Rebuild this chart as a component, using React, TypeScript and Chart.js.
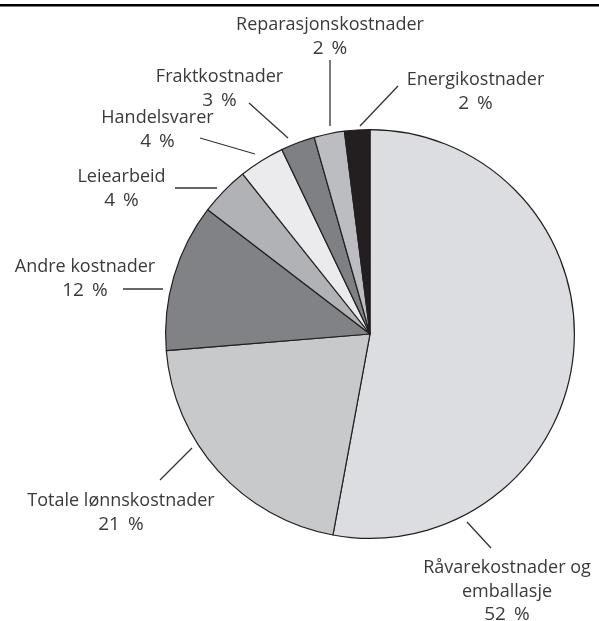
import React, { useEffect, useRef } from "react";
import { Chart, registerables } from "chart.js";

Chart.register(...registerables);

const categories = [
  "Råvarekostnader og emballasje",
  "Totale lønnskostnader",
  "Andre kostnader",
  "Leiearbeid",
  "Handelsvarer",
  "Fraktkostnader",
  "Reparasjonskostnader",
  "Energikostnader",
];
const values = [52.9, 20.8, 11.7, 3.9, 3.6, 2.7, 2.4, 2.0];
const percentLabels = ["52 %", "21 %", "12 %", "4 %", "4 %", "3 %", "2 %", "2 %"];
const labelTextLines = [
  ["Råvarekostnader og", "emballasje"],
  ["Totale lønnskostnader"],
  ["Andre kostnader"],
  ["Leiearbeid"],
  ["Handelsvarer"],
  ["Fraktkostnader"],
  ["Reparasjonskostnader"],
  ["Energikostnader"],
];
const colors = ["#dcdde0", "#c8c9cb", "#808285", "#b1b2b5", "#ebebed", "#7e8083", "#bcbdc0", "#231f20"];

// label placement (text centre x, first baseline y, leader line ends)
const labelLayout = [
  { x: 507, y: 573, line: [467, 522, 491, 548] },
  { x: 121, y: 506, line: [192, 448, 160, 480] },
  { x: 85, y: 272, line: [123, 289, 163, 289] },
  { x: 121.5, y: 182, line: [175, 188, 217, 188] },
  { x: 157.5, y: 123, line: [200, 138, 255, 154] },
  { x: 219.5, y: 82, line: [249, 103, 288, 138] },
  { x: 330, y: 30, line: [330, 60, 330, 126] },
  { x: 475.5, y: 85, line: [398, 86, 360, 126] },
];

const labelPlugin = {
  id: "labelPlugin",
  afterDraw(chart: any) {
    const ctx = chart.ctx as CanvasRenderingContext2D;
    ctx.save();
    // top rule
    ctx.fillStyle = "#000";
    ctx.fillRect(0, 4, chart.width, 2.5);
    ctx.textAlign = "center";
    ctx.textBaseline = "alphabetic";
    ctx.fillStyle = "#3a3a3a";
    ctx.strokeStyle = "#333";
    ctx.lineWidth = 1.3;
    categories.forEach((_, i) => {
      const lay = labelLayout[i];
      const lines = [...labelTextLines[i], percentLabels[i]];
      lines.forEach((t, k) => {
        const isPct = k === lines.length - 1;
        ctx.font = isPct ? '19px "Open Sans"' : '18px "Open Sans"';
        ctx.fillText(isPct ? t.replace(" ", "\u2009 ") : t, lay.x, lay.y + k * 23.5);
      });
      ctx.beginPath();
      ctx.moveTo(lay.line[0], lay.line[1]);
      ctx.lineTo(lay.line[2], lay.line[3]);
      ctx.stroke();
    });
    ctx.restore();
  },
};

export default function App() {
  const ref = useRef<HTMLCanvasElement>(null);
  useEffect(() => {
    document.body.style.margin = "0";
    const chart = new Chart(ref.current!, {
      type: "pie",
      data: {
        labels: categories,
        datasets: [
          {
            data: values,
            backgroundColor: colors,
            borderColor: "#231f20",
            borderWidth: 1.2,
          },
        ],
      },
      options: {
        responsive: false,
        animation: false,
        layout: { padding: { left: 165, right: 24, top: 129, bottom: 82 } },
        plugins: { legend: { display: false }, tooltip: { enabled: false } },
      },
      plugins: [labelPlugin],
    });
    return () => chart.destroy();
  }, []);
  return (
    <div style={{ width: 599, height: 621, background: "#fff" }}>
      <canvas ref={ref} width={599} height={621} />
    </div>
  );
}
